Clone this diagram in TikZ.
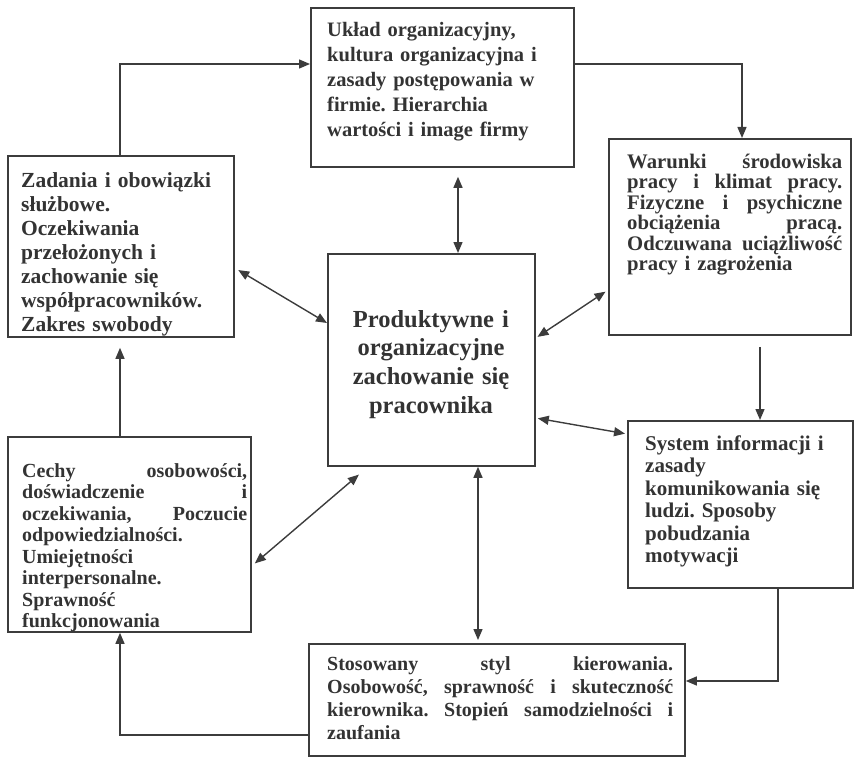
\documentclass[tikz,border=0pt]{standalone}
\usepackage{fontspec}
\setmainfont{Liberation Serif}[BoldFont={Liberation Serif Bold}]
\usetikzlibrary{arrows.meta}
\definecolor{ink}{HTML}{333333}
\definecolor{linec}{HTML}{3C3C3C}
\newcommand{\jline}[2]{\makebox[#1][l]{#2}}
\frenchspacing
\begin{document}
\begin{tikzpicture}[x=1pt,y=-1pt,
  >={Triangle[length=11pt,width=9pt]},
  box/.style={draw=linec, line width=1.8pt, inner sep=0pt, anchor=north west},
  conn/.style={draw=linec, line width=1.4pt},
  txt/.style={anchor=base west, inner sep=0pt, align=left, text=ink},
]
\useasboundingbox (0,0) rectangle (854,757);

% boxes
\node[box, minimum width=263pt, minimum height=159pt] (top)  at (310,7)   {};
\node[box, minimum width=226pt, minimum height=181pt] (zad)  at (7,155)   {};
\node[box, minimum width=242pt, minimum height=196pt] (war)  at (608,138) {};
\node[box, minimum width=207pt, minimum height=212pt] (cen)  at (327,253) {};
\node[box, minimum width=225pt, minimum height=167pt] (sys)  at (627,420) {};
\node[box, minimum width=243pt, minimum height=195pt] (cech) at (7,436)   {};
\node[box, minimum width=376pt, minimum height=112pt] (bot)  at (308,643) {};

% texts
\node[txt, text width=240pt, font=\fontsize{20.5}{25}\selectfont\bfseries] (topT) at (327,37)
 {Układ organizacyjny,\\ kultura organizacyjna i\\ zasady postępowania w\\ firmie. Hierarchia\\ wartości i image firmy};
\node[txt, text width=208pt, font=\fontsize{21.5}{24}\selectfont\bfseries] (zadT) at (21,187)
 {Zadania i obowiązki\\ służbowe.\\ Oczekiwania\\ przełożonych i\\ zachowanie się\\ współpracowników.\\ Zakres swobody};
\node[txt, text width=215pt, font=\fontsize{20.7}{20.5}\selectfont\bfseries] (warT) at (627,168)
 {\jline{215pt}{Warunki\hfill środowiska}\\
  \jline{215pt}{pracy\hfill i\hfill klimat\hfill pracy.}\\
  \jline{215pt}{Fizyczne\hfill i\hfill psychiczne}\\
  \jline{215pt}{obciążenia\hfill pracą.}\\
  \jline{215pt}{Odczuwana\hfill uciążliwość}\\
  pracy i zagrożenia};
\node[anchor=base, inner sep=0pt, align=center, text=ink, text width=205pt, font=\fontsize{24.5}{28.7}\selectfont\bfseries] (cenT) at (431,327)
 {Produktywne i\\ organizacyjne\\ zachowanie się\\ pracownika};
\node[txt, text width=200pt, font=\fontsize{21}{22.5}\selectfont\bfseries] (sysT) at (645,450)
 {System informacji i\\ zasady\\ komunikowania się\\ ludzi. Sposoby\\ pobudzania\\ motywacji};
\node[txt, text width=225pt, font=\fontsize{20}{21.5}\selectfont\bfseries] (cechT) at (22,477)
 {\jline{225pt}{Cechy\hfill osobowości,}\\
  \jline{225pt}{doświadczenie\hfill i}\\
  \jline{225pt}{oczekiwania,\hfill Poczucie}\\
  odpowiedzialności.\\ Umiejętności\\ interpersonalne.\\ Sprawność\\ funkcjonowania};
\node[txt, text width=346pt, font=\fontsize{20}{23.3}\selectfont\bfseries] (botT) at (327,670)
 {\jline{346pt}{Stosowany\hfill styl\hfill kierowania.}\\
  \jline{346pt}{Osobowość,\hfill sprawność\hfill i\hfill skuteczność}\\
  \jline{346pt}{kierownika.\hfill Stopień\hfill samodzielności\hfill i}\\
  zaufania};

% helper coordinates
\coordinate (h64) at (0,64);
\coordinate (v742) at (742,0);
\coordinate (v760) at (760,0);
\coordinate (v778) at (778,0);
\coordinate (h681) at (0,681);
\coordinate (h735) at (0,735);
\coordinate (v120) at (120,0);
\coordinate (v458) at (458,0);
\coordinate (v478) at (478,0);
\coordinate (h268) at (0,268);
\coordinate (h323) at (0,323);
\coordinate (h290) at (0,290);
\coordinate (h338) at (0,338);
\coordinate (h418) at (0,418);
\coordinate (h434) at (0,434);
\coordinate (h566) at (0,566);
\coordinate (v368) at (368,0);

% cycle connectors
\draw[conn,->] (zad.north -| v120) |- (top.west |- h64);
\draw[conn,->] (top.east |- h64) -| (war.north -| v742);
\draw[conn,->, shorten <=11pt] (war.south -| v760) -- (sys.north -| v760);
\draw[conn,->] (sys.south -| v778) |- (bot.east |- h681);
\draw[conn,->] (bot.west |- h735) -| (cech.south -| v120);
\draw[conn,->, shorten >=10pt] (cech.north -| v120) -- (zad.south -| v120);

% double arrows to centre
\draw[conn,<->, shorten <=9pt] (top.south -| v458) -- (cen.north -| v458);
\draw[conn,<->, shorten <=4pt] (zad.east |- h268) -- (cen.west |- h323);
\draw[conn,<->, shorten <=3pt, shorten >=2pt] (war.west |- h290) -- (cen.east |- h338);
\draw[conn,<->, shorten <=2pt, shorten >=2pt] (cen.east |- h418) -- (sys.west |- h434);
\draw[conn,<->, shorten <=4pt, shorten >=12pt] (cech.east |- h566) -- (cen.south -| v368);
\draw[conn,<->, shorten <=3pt] (bot.north -| v478) -- (cen.south -| v478);
\end{tikzpicture}
\end{document}
